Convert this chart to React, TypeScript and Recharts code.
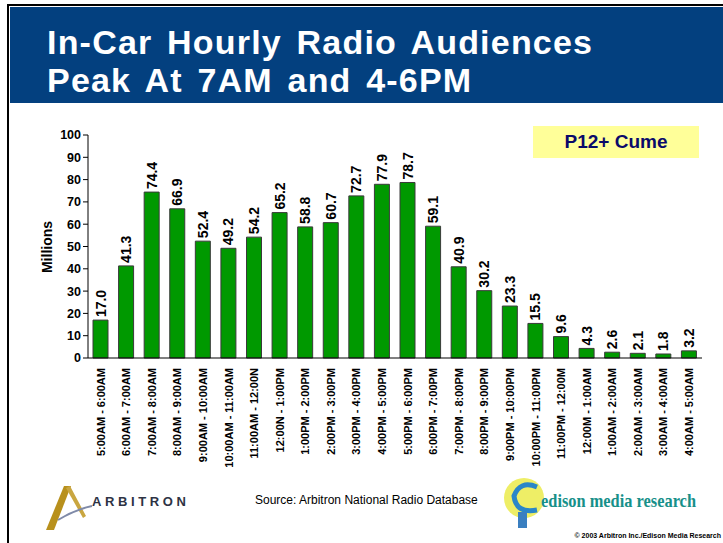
import { BarChart, Bar, XAxis, YAxis, LabelList } from 'recharts'

const hours = [
  '5:00AM - 6:00AM', '6:00AM - 7:00AM', '7:00AM - 8:00AM', '8:00AM - 9:00AM',
  '9:00AM - 10:00AM', '10:00AM - 11:00AM', '11:00AM - 12:00N', '12:00N - 1:00PM',
  '1:00PM - 2:00PM', '2:00PM - 3:00PM', '3:00PM - 4:00PM', '4:00PM - 5:00PM',
  '5:00PM - 6:00PM', '6:00PM - 7:00PM', '7:00PM - 8:00PM', '8:00PM - 9:00PM',
  '9:00PM - 10:00PM', '10:00PM - 11:00PM', '11:00PM - 12:00M', '12:00M - 1:00AM',
  '1:00AM - 2:00AM', '2:00AM - 3:00AM', '3:00AM - 4:00AM', '4:00AM - 5:00AM',
]
const cume = [
  17.0, 41.3, 74.4, 66.9, 52.4, 49.2, 54.2, 65.2, 58.8, 60.7, 72.7, 77.9,
  78.7, 59.1, 40.9, 30.2, 23.3, 15.5, 9.6, 4.3, 2.6, 2.1, 1.8, 3.2,
]
const yTicks = [0, 10, 20, 30, 40, 50, 60, 70, 80, 90, 100]

const data = hours.map((hour, i) => ({ hour, cume: cume[i] }))

const FONT = '"Liberation Sans", Arial, Helvetica, sans-serif'

function HourTick({ x, y, payload }: any) {
  return (
    <text
      x={x}
      y={y + 2}
      transform={`rotate(-90, ${x}, ${y + 2})`}
      textAnchor="end"
      dy="0.35em"
      fontSize={11}
      fontWeight="bold"
      fontFamily={FONT}
      fill="#000"
    >
      {payload.value}
    </text>
  )
}

function ValueLabel({ x, y, width, value }: any) {
  const cx = x + width / 2
  const ty = y - 3
  return (
    <text
      x={cx}
      y={ty}
      transform={`rotate(-90, ${cx}, ${ty})`}
      textAnchor="start"
      dy="0.36em"
      fontSize={14}
      fontWeight="bold"
      fontFamily={FONT}
      fill="#000"
    >
      {Number(value).toFixed(1)}
    </text>
  )
}

const titleLine = {
  position: 'absolute' as const, left: 47, whiteSpace: 'nowrap' as const,
  fontSize: 34, lineHeight: '38px', fontWeight: 'bold' as const, color: '#fff',
  letterSpacing: 1.2, wordSpacing: 4,
}

export default function App() {
  return (
    <div style={{ position: 'absolute', left: 0, top: 0, width: 723, height: 543, background: '#fff', overflow: 'hidden', fontFamily: FONT }}>
      {/* frame + title band */}
      <div style={{ position: 'absolute', left: 7, top: 4, width: 716, height: 2, background: '#000' }} />
      <div style={{ position: 'absolute', left: 7, top: 4, width: 2, height: 539, background: '#000' }} />
      <div style={{ position: 'absolute', left: 10, top: 7, width: 713, height: 96, background: '#03407f' }} />
      <div style={{ ...titleLine, top: 23 }}>In-Car Hourly Radio Audiences</div>
      <div style={{ ...titleLine, top: 61 }}>Peak At 7AM and 4-6PM</div>

      <div style={{ position: 'absolute', left: 0, top: 0 }}>
        <BarChart
          width={723}
          height={543}
          data={data}
          margin={{ top: 135, right: 21, bottom: 75, left: 48 }}
          barSize={15}
        >
          <XAxis
            dataKey="hour"
            interval={0}
            height={110}
            tickLine={false}
            axisLine={{ stroke: '#000', strokeWidth: 1 }}
            tick={<HourTick />}
          />
          <YAxis
            domain={[0, 100]}
            ticks={yTicks}
            width={40}
            tickSize={5}
            axisLine={{ stroke: '#000', strokeWidth: 1 }}
            tickLine={{ stroke: '#000' }}
            tick={{ fontSize: 12.5, fontWeight: 'bold', fill: '#000', fontFamily: FONT }}
          />
          <Bar dataKey="cume" fill="#009900" stroke="#3a3a3a" strokeWidth={1} isAnimationActive={false}>
            <LabelList dataKey="cume" content={<ValueLabel />} />
          </Bar>
        </BarChart>
      </div>

      {/* axis title */}
      <svg style={{ position: 'absolute', left: 0, top: 0, pointerEvents: 'none' }} width={723} height={543}>
        <text x={47} y={247} transform="rotate(-90, 47, 247)" textAnchor="middle" dy="0.36em"
          fontSize={14} fontWeight="bold" fontFamily={FONT} fill="#000">
          Millions
        </text>
      </svg>

      {/* legend box */}
      <div style={{
        position: 'absolute', left: 533, top: 126, width: 166, height: 32,
        background: '#ffff99', display: 'flex', alignItems: 'center', justifyContent: 'center',
        fontSize: 19, fontWeight: 'bold', color: '#0a0a6a',
      }}>
        P12+ Cume
      </div>

      {/* footer */}
      <svg style={{ position: 'absolute', left: 0, top: 470 }} width={723} height={73}>
        <polygon points="46,60 64,16 71,16 54,60" fill="#b8901c" />
        <polygon points="66,18 70,16 86,46 83,48" fill="#c9a640" />
        <path d="M 58 50 Q 74 40 92 36" stroke="#7f8aa8" strokeWidth={2} fill="none" />
        <text x={92} y={36} fontSize={13} fontWeight="bold" fontFamily={FONT} fill="#2e3344"
          textLength={94} lengthAdjust="spacing">
          ARBITRON
        </text>
        <text x={255} y={34} fontSize={12} fontFamily={FONT} fill="#000">
          Source:  Arbitron National Radio Database
        </text>
        <ellipse cx={524} cy={28} rx={20} ry={20} fill="#eeee66" />
        <path d="M 537 17 Q 520 10 514 26 Q 516 44 537 40" stroke="#2a86c8" strokeWidth={5} fill="none" />
        <rect x={518} y={42} width={9} height={16} fill="#3a7fc0" />
        <text x={541} y={37} fontSize={19} fontWeight="bold" fontFamily='"Liberation Serif", "Times New Roman", serif'
          fill="#17908a" textLength={155} lengthAdjust="spacingAndGlyphs">
          edison media research
        </text>
        <text x={721} y={68} textAnchor="end" fontSize={7} fontWeight="bold" fontFamily={FONT} fill="#000">
          © 2003 Arbitron Inc./Edison Media Research
        </text>
      </svg>
    </div>
  )
}
